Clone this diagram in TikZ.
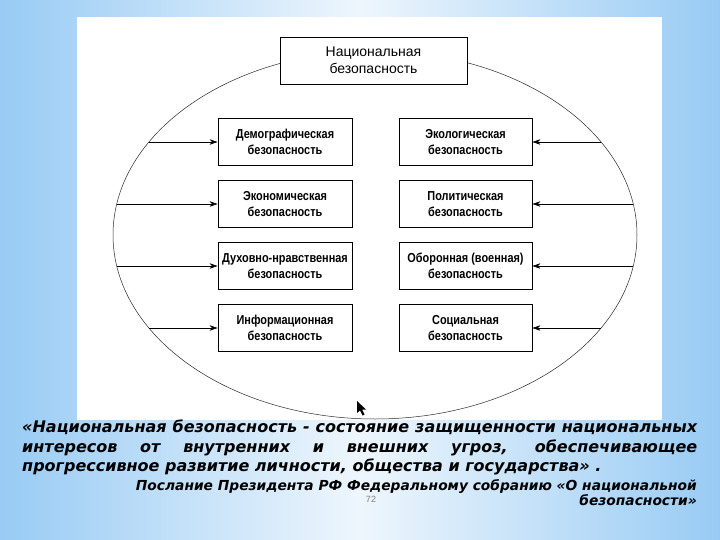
\documentclass[tikz,border=0pt]{standalone}
\usepackage{fontspec}
\setmainfont{Liberation Sans}
\newfontfamily\boxfont[FakeStretch=0.84,BoldFont={Liberation Sans Bold},BoldFeatures={FakeStretch=0.84}]{Liberation Sans}
\newfontfamily\quotefont{DejaVu Sans}
\usetikzlibrary{arrows.meta,calc}
\definecolor{bgblue}{RGB}{152,203,244}
\definecolor{bgmid}{RGB}{238,246,253}
\definecolor{elline}{RGB}{40,40,40}
\tikzset{
  mainbox/.style={draw=black,line width=0.9pt,fill=white,minimum width=187pt,minimum height=47pt,align=center,inner sep=0pt,font=\fontsize{14}{17}\selectfont},
  subbox/.style={draw=black,line width=0.9pt,fill=white,minimum height=47pt,align=center,inner sep=0pt,font=\boxfont\bfseries\fontsize{13}{16}\selectfont},
  lbox/.style={subbox,minimum width=134pt},
  rbox/.style={subbox,minimum width=133pt},
  inarrow/.style={line width=0.6pt,-{Stealth[length=8pt,width=5.5pt]}},
  ellline/.style={draw=elline,line width=0.5pt},
  quote/.style={font=\quotefont\bfseries\itshape\fontsize{16}{19.5}\selectfont,inner sep=0pt},
  source/.style={font=\quotefont\bfseries\itshape\fontsize{13.8}{15}\selectfont,inner sep=0pt},
}
\begin{document}
\begin{tikzpicture}[x=1pt,y=-1pt]
\useasboundingbox (0,0) rectangle (720,540);
% background
\shade[left color=bgblue,right color=bgblue,middle color=bgmid] (0,0) rectangle (720,540);
\fill[white] (77,17) rectangle (662,420);
% ellipse
\draw[ellline] (375,235) ellipse [x radius=262, y radius=184];
% top box
\node[mainbox] (nat) at (373.5,60.5) {Национальная\\безопасность};
% left column
\node[lbox] (l1) at (285,142) {Демографическая\\безопасность};
\node[lbox] (l2) at (285,204) {Экономическая\\безопасность};
\node[lbox] (l3) at (285,266) {Духовно-нравственная\\безопасность};
\node[lbox] (l4) at (285,328) {Информационная\\безопасность};
% right column
\node[rbox] (r1) at (465.5,142) {Экологическая\\безопасность};
\node[rbox] (r2) at (465.5,204) {Политическая\\безопасность};
\node[rbox] (r3) at (465.5,266) {Оборонная (военная)\\безопасность};
\node[rbox] (r4) at (465.5,328) {Социальная\\безопасность};
% arrow start points on the ellipse
\foreach \i/\yy in {1/142,2/204,3/266,4/328}{
  \coordinate (el\i) at ({375-262*sqrt(1-((\yy-235)/184)^2)},\yy);
  \coordinate (er\i) at ({375+262*sqrt(1-((\yy-235)/184)^2)},\yy);
}
\foreach \i in {1,2,3,4}{
  \draw[inarrow] (el\i) -- (l\i.west);
  \draw[inarrow] (er\i) -- (r\i.east);
}
% cursor
\fill[black] (357,401) -- (357,413) -- (360,410.5) -- (362.5,415.5) -- (364.5,414.5) -- (362,409.5) -- (366,409.5) -- cycle;
% quotation
\node[quote,anchor=base west] (q1) at (22,432) {\makebox[675pt][s]{«Национальная безопасность - состояние защищенности национальных}};
\node[quote,anchor=base west] (q2) at (22,452) {\makebox[675pt][s]{интересов от внутренних и внешних угроз, обеспечивающее}};
\node[quote,anchor=base west] (q3) at (22,471) {прогрессивное развитие личности, общества и государства» .};
\node[source,anchor=base east] (s1) at (697,490) {Послание Президента РФ Федеральному собранию «О национальной};
\node[source,anchor=base east] (s2) at (697,505) {безопасности»};
\node[font=\fontsize{9}{10}\selectfont,text=gray,anchor=base] (pg) at (371,502) {72};
\end{tikzpicture}
\end{document}
